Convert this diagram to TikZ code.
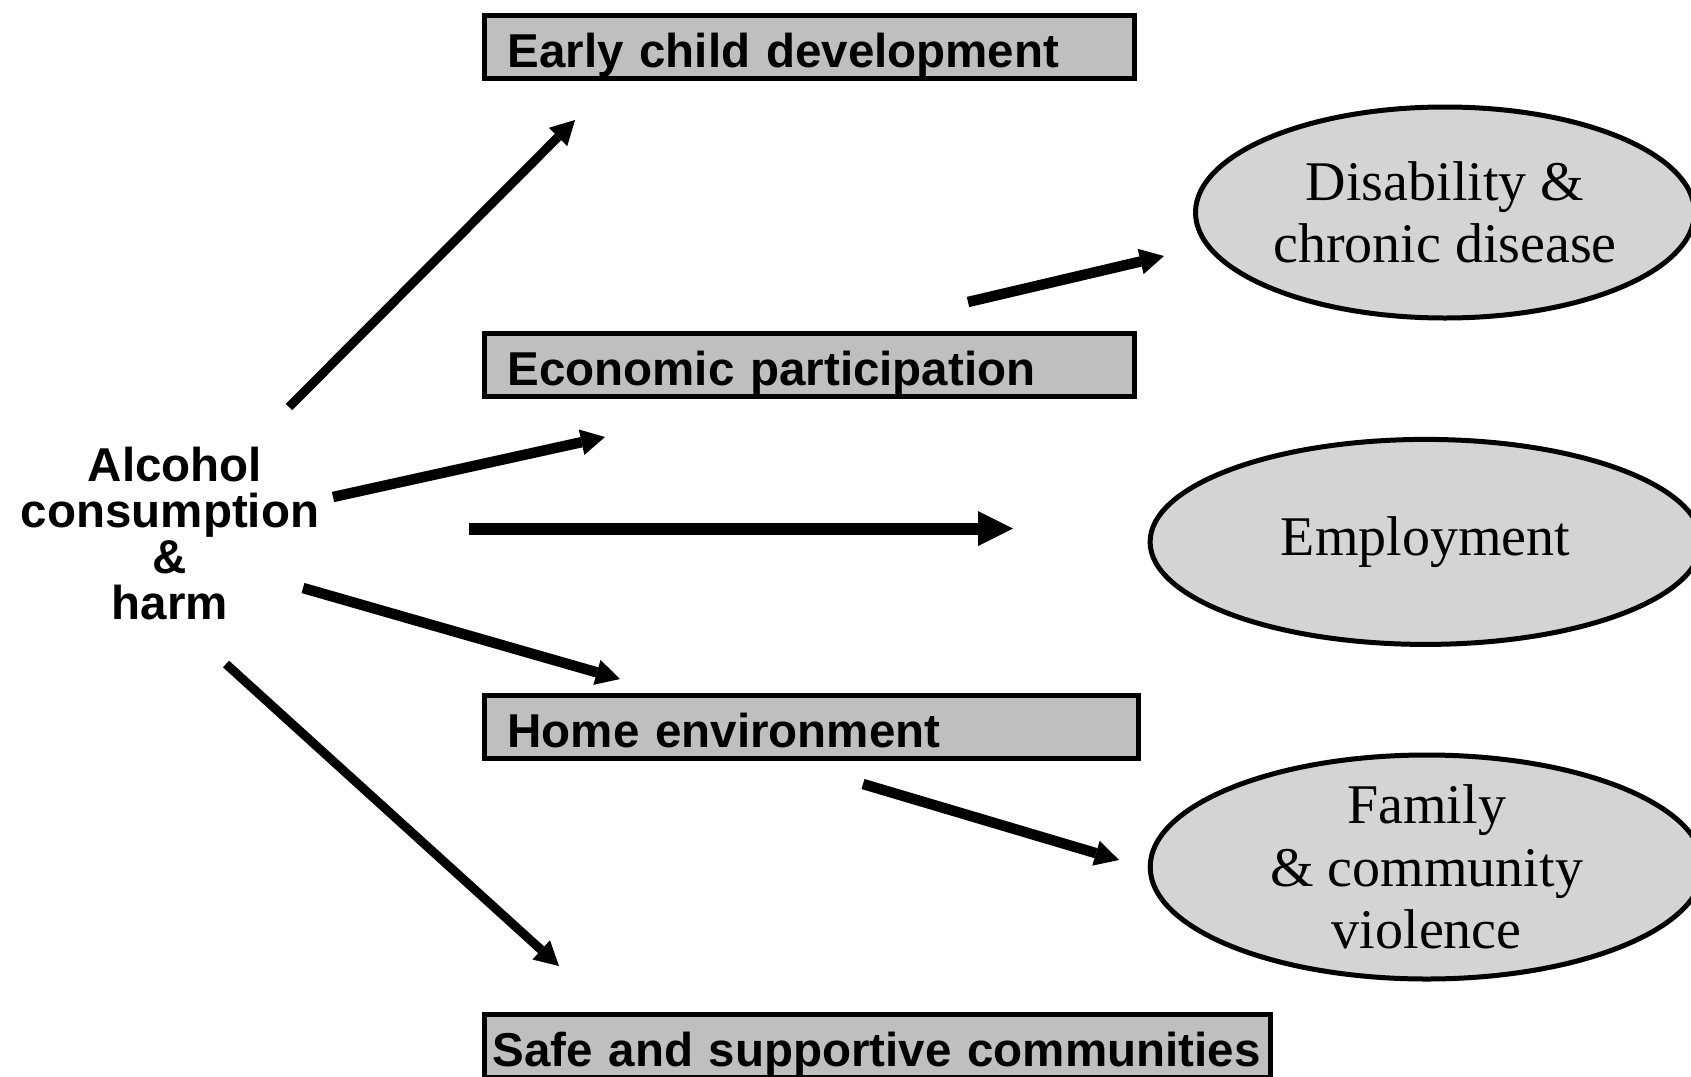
\documentclass[tikz,border=0pt]{standalone}
\usepackage{fontspec}
\setmainfont{Liberation Serif}
\setsansfont{Liberation Sans}
\usetikzlibrary{positioning, arrows.meta, shapes.geometric}

\definecolor{boxgray}{gray}{0.75}
\definecolor{ovalgray}{gray}{0.83}

\begin{document}
\begin{tikzpicture}[%
		x=1pt, y=-1pt,
		areabox/.style={
			rectangle,
			line width=5pt,
			black,
			fill=boxgray,
			draw,
			anchor=north west,
			minimum height=63pt,
			inner xsep=23pt,
			inner ysep=0pt,
			text height=40pt,
			text depth=0pt,
			align=left,
			font=\sffamily\bfseries\fontsize{47.5}{46}\selectfont
		},
		oval/.style={
			ellipse,
			line width=5pt,
			black,
			fill=ovalgray,
			inner sep=0pt,
			draw
		},
		ovaltext/.style={
			align=center,
			inner sep=0pt,
			font=\fontsize{56}{62.5}\selectfont
		},
		harmtext/.style={
			align=center,
			inner sep=0pt,
			font=\sffamily\bfseries\fontsize{47.5}{46}\selectfont
		},
		harmarrow/.style={
			line width=10.5pt,
			-{Triangle[length=24pt,width=26pt,line width=0pt]}
		},
		bigarrow/.style={
			line width=12pt,
			-{Triangle[length=35pt,width=35pt,line width=0pt]}
		}]

		\useasboundingbox (0,0) rectangle (1691,1076);

		% CENTRE

		\node (alc) [harmtext] at (170,534) {\hspace*{10pt}Alcohol\\consumption\\\&\\harm};

		% BOXES

		\node (ecd) [areabox, text width=604pt] at (482,13) {Early child development};
		\node (ep) [areabox, text width=604pt] at (482,331) {Economic participation};
		\node (home) [areabox, text width=608pt] at (482,693) {Home environment};
		\node (safe) [areabox, inner xsep=8pt, text width=769.5pt] at (482,1012) {\mbox{Safe and supportive communities}};

		% OUTCOMES

		\node (dis) [oval, minimum width=499pt, minimum height=211pt] at (1445,212.5) {};
		\node (dis-t) [ovaltext] at (dis) {Disability \&\\chronic disease};
		\node (emp) [oval, minimum width=551pt, minimum height=205pt] at (1425.6,541.9) {};
		\node (emp-t) [ovaltext] at (emp) {Employment};
		\node (fam) [oval, minimum width=553pt, minimum height=224pt] at (1426.7,867) {};
		\node (fam-t) [ovaltext] at (fam) {Family\\\& community\\violence};

		% ARROW ENDS

		\coordinate (ecd-s) at (289,407);
		\coordinate (ecd-e) at (575,120);
		\coordinate (ep-s) at (333,497);
		\coordinate (ep-e) at (605,437);
		\coordinate (emp-s) at (469,528.5);
		\coordinate (emp-e) at (1013,528.5);
		\coordinate (home-s) at (303,588);
		\coordinate (home-e) at (620,679);
		\coordinate (safe-s) at (226,664);
		\coordinate (safe-e) at (559,966);
		\coordinate (dis-s) at (968,302);
		\coordinate (dis-e) at (1164,256);
		\coordinate (fam-s) at (863,784);
		\coordinate (fam-e) at (1119,860);

		% ARROWS

		\draw[harmarrow, line width=9pt] (ecd-s) -- (ecd-e);
		\draw[harmarrow] (ep-s) -- (ep-e);
		\draw[bigarrow] (emp-s) -- (emp-e);
		\draw[harmarrow] (home-s) -- (home-e);
		\draw[harmarrow, line width=9pt] (safe-s) -- (safe-e);
		\draw[harmarrow] (dis-s) -- (dis-e);
		\draw[harmarrow] (fam-s) -- (fam-e);
\end{tikzpicture}
\end{document}
